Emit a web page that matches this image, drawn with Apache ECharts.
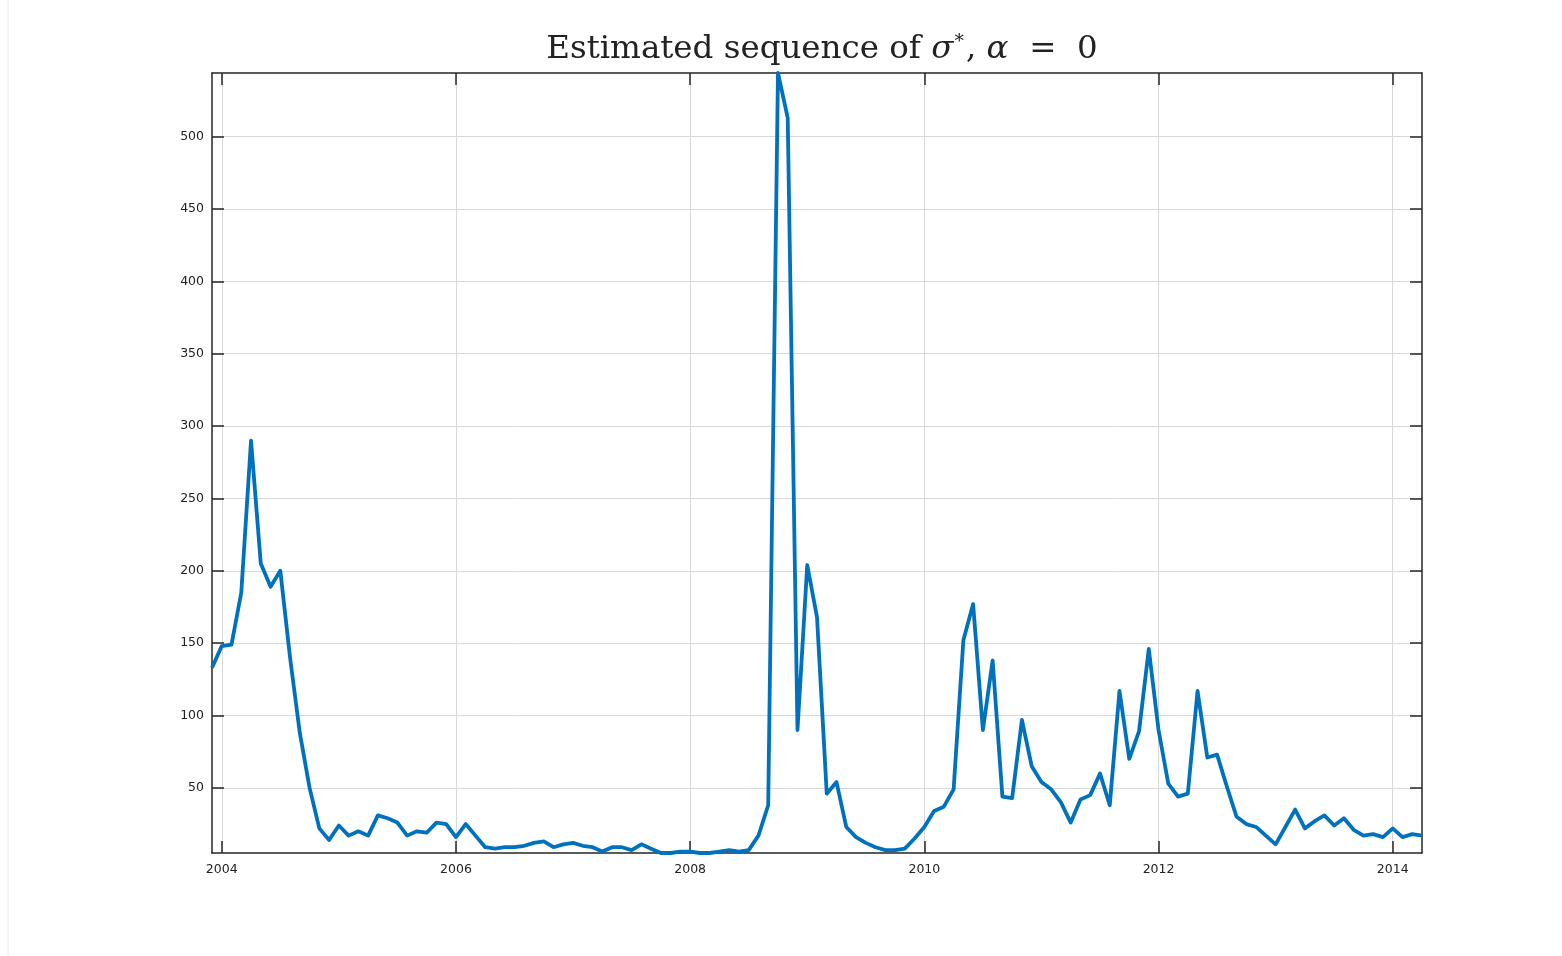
<!DOCTYPE html>
<html>
<head>
<meta charset="utf-8">
<script src="https://cdn.jsdelivr.net/npm/echarts@6/dist/echarts.min.js"></script>
<style>
html,body{margin:0;padding:0;background:#fff;}
#chart{width:1562px;height:956px;}
</style>
</head>
<body>
<div id="chart"></div>
<script>
// Monthly series, Dec 2003 .. Apr 2014
const startYear = 2003;
const startMonth = 12; // December
const sigmaValues = [
  133,
  148,149,185,290,205,189,200,140,88,50,22,14,
  24,17,20,17,31,29,26,17,20,19,26,25,
  16,25,17,9,8,9,9,10,12,13,9,11,
  12,10,9,6,9,9,7,11,8,5,5,6,
  6,5,5,6,7,6,7,17,38,544,513,90,
  204,168,46,54,23,16,12,9,7,7,8,15,
  23,34,37,49,152,177,90,138,44,43,97,65,
  54,49,40,26,42,45,60,38,117,70,89,146,
  90,53,44,46,117,71,73,51,30,25,23,17,
  11,23,35,22,27,31,24,29,21,17,18,16,
  22,16,18,17
];
const xTicks = [2004, 2006, 2008, 2010, 2012, 2014];
const yTicks = [50, 100, 150, 200, 250, 300, 350, 400, 450, 500];
const xMin = 2003 + 11 / 12;
const xMax = 2014 + 3 / 12;
const yMin = 5;
const yMax = 544;

const seriesData = sigmaValues.map((v, i) => [startYear + (startMonth - 1 + i) / 12, v]);

const axisColor = '#262626';
const gridColor = '#d9d9d9';
const labelStyle = { color: '#222', fontFamily: 'DejaVu Sans, sans-serif', fontSize: 12.5 };

function xAxisDef(pos, showLabel) {
  return {
    type: 'value', position: pos, min: xMin, max: xMax,
    axisLine: { show: true, onZero: false, lineStyle: { color: axisColor, width: 1.5 } },
    axisTick: { show: true, inside: true, length: 12, customValues: xTicks, lineStyle: { color: axisColor, width: 1.5 } },
    axisLabel: Object.assign({ show: showLabel, customValues: xTicks, margin: 10, formatter: v => String(Math.round(v)) }, labelStyle),
    splitLine: { show: showLabel, customValues: xTicks, lineStyle: { color: gridColor, width: 1 } }
  };
}
function yAxisDef(pos, showLabel) {
  return {
    type: 'value', position: pos, min: yMin, max: yMax,
    axisLine: { show: true, onZero: false, lineStyle: { color: axisColor, width: 1.5 } },
    axisTick: { show: true, inside: true, length: 12, customValues: yTicks, lineStyle: { color: axisColor, width: 1.5 } },
    axisLabel: Object.assign({ show: showLabel, customValues: yTicks, margin: 8 }, labelStyle),
    splitLine: { show: showLabel, customValues: yTicks, lineStyle: { color: gridColor, width: 1 } }
  };
}

const titleFont = 'DejaVu Serif, serif';
const chart = echarts.init(document.getElementById('chart'), null, { renderer: 'canvas' });
chart.setOption({
  backgroundColor: '#ffffff',
  animation: false,
  title: {
    text: '{n|Estimated sequence of }{i|σ}{sup|*}{n|, }{i|α}{n|  =  0}',
    left: 817, top: 28, textAlign: 'center',
    textStyle: {
      fontWeight: 'normal',
      rich: {
        n: { fontFamily: titleFont, fontWeight: 'normal', fontSize: 32.5, color: '#222' },
        i: { fontFamily: titleFont, fontWeight: 'normal', fontStyle: 'italic', fontSize: 32.5, color: '#222' },
        sup: { fontFamily: titleFont, fontWeight: 'normal', fontSize: 19, color: '#222', verticalAlign: 'top', padding: [0, 2, 12, 1] }
      }
    }
  },
  grid: { left: 212, right: 140, top: 73, bottom: 103, containLabel: false },
  xAxis: [xAxisDef('bottom', true), xAxisDef('top', false)],
  yAxis: [yAxisDef('left', true), yAxisDef('right', false)],
  graphic: [{
    type: 'line', shape: { x1: 8, y1: 0, x2: 8, y2: 956 },
    style: { stroke: '#e8e8e8', lineWidth: 1 }, silent: true
  }],
  series: [{
    type: 'line',
    xAxisIndex: 0, yAxisIndex: 0,
    data: seriesData,
    showSymbol: false,
    symbol: 'none',
    clip: true,
    lineStyle: { color: '#0072BD', width: 3.8, join: 'round' }
  }]
});
</script>
</body>
</html>
